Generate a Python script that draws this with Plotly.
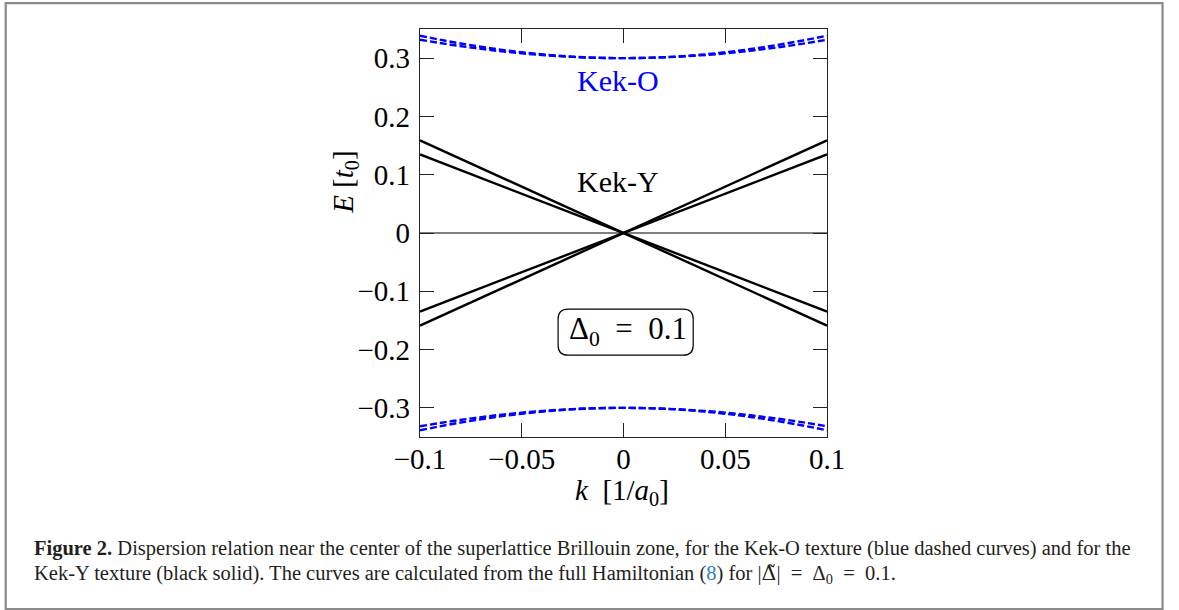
import plotly.graph_objects as go

# ---------------- data ----------------
k_band = [-0.1, -0.0875, -0.075, -0.0625, -0.05, -0.0375, -0.025, -0.0125, 0.0,
          0.0125, 0.025, 0.0375, 0.05, 0.0625, 0.075, 0.0875, 0.1]
kekO_upper_outer = [0.3385, 0.3299, 0.3222, 0.3156, 0.3101, 0.3057, 0.3026, 0.3006, 0.3000,
                    0.3006, 0.3026, 0.3057, 0.3101, 0.3156, 0.3222, 0.3299, 0.3385]
kekO_upper_inner = [0.3316, 0.3245, 0.3182, 0.3127, 0.3082, 0.3047, 0.3021, 0.3005, 0.3000,
                    0.3005, 0.3021, 0.3047, 0.3082, 0.3127, 0.3182, 0.3245, 0.3316]
kekO_lower_outer = [-0.3385, -0.3299, -0.3222, -0.3156, -0.3101, -0.3057, -0.3026, -0.3006, -0.3000,
                    -0.3006, -0.3026, -0.3057, -0.3101, -0.3156, -0.3222, -0.3299, -0.3385]
kekO_lower_inner = [-0.3316, -0.3245, -0.3182, -0.3127, -0.3082, -0.3047, -0.3021, -0.3005, -0.3000,
                    -0.3005, -0.3021, -0.3047, -0.3082, -0.3127, -0.3182, -0.3245, -0.3316]

k_line = [-0.1, 0.0, 0.1]
kekY_fast_up = [-0.159, 0.0, 0.159]
kekY_fast_down = [0.159, 0.0, -0.159]
kekY_slow_up = [-0.1347, 0.0, 0.1347]
kekY_slow_down = [0.1347, 0.0, -0.1347]

x_ticks = [-0.1, -0.05, 0, 0.05, 0.1]
x_tick_labels = ["\u22120.1", "\u22120.05", "0", "0.05", "0.1"]
y_ticks = [-0.3, -0.2, -0.1, 0, 0.1, 0.2, 0.3]
y_tick_labels = ["\u22120.3", "\u22120.2", "\u22120.1", "0", "0.1", "0.2", "0.3"]

# ---------------- layout geometry (pixels) ----------------
W, H = 1179, 610
L, R, T, B = 420.0, 826.7, 29.3, 436.7
PW, PH = R - L, B - T


def px(x):
    return (x - L) / PW


def py(y):
    return (B - y) / PH


SERIF = "Liberation Serif"
BLUE = "#0000ff"

fig = go.Figure()

# Kek-O blue dashed bands
for yv in [kekO_upper_outer, kekO_upper_inner, kekO_lower_outer, kekO_lower_inner]:
    fig.add_trace(go.Scatter(x=k_band, y=yv, mode="lines", line_shape="spline",
                             line=dict(color=BLUE, width=2.4, dash="7px,3px"),
                             showlegend=False, hoverinfo="skip"))

# zero line
fig.add_trace(go.Scatter(x=[x_ticks[0], x_ticks[-1]], y=[0, 0], mode="lines",
                         line=dict(color="black", width=1), showlegend=False, hoverinfo="skip"))

# Kek-Y black solid lines
for yv in [kekY_fast_up, kekY_fast_down, kekY_slow_up, kekY_slow_down]:
    fig.add_trace(go.Scatter(x=k_line, y=yv, mode="lines",
                             line=dict(color="black", width=2.4),
                             showlegend=False, hoverinfo="skip"))

axis_common = dict(showgrid=False, zeroline=False, showline=True, linecolor="#222",
                   linewidth=1.3, mirror="ticks", ticks="inside", ticklen=14,
                   tickwidth=1.1, tickcolor="#222",
                   tickfont=dict(family=SERIF, size=29, color="black"))

fig.update_layout(
    width=W, height=H, autosize=False,
    margin=dict(l=L, r=W - R, t=T, b=H - B, pad=0),
    paper_bgcolor="white", plot_bgcolor="white",
    xaxis=dict(range=[-0.1, 0.1], tickvals=x_ticks, ticktext=x_tick_labels, **axis_common),
    yaxis=dict(range=[-0.35, 0.35], tickvals=y_ticks, ticktext=y_tick_labels, **axis_common),
)
fig.update_xaxes(ticklabelstandoff=-4)
fig.update_yaxes(ticklabelstandoff=3)

ann = []
# axis titles
ann.append(dict(xref="paper", yref="paper", x=px(622), y=py(492), xanchor="center", yanchor="middle",
                text="<i>k</i>  [1/<i>a</i><sub>0</sub>]", showarrow=False,
                font=dict(family=SERIF, size=29, color="black")))
ann.append(dict(xref="paper", yref="paper", x=px(345), y=py(182), xanchor="center", yanchor="middle",
                text="<i>E</i> [<i>t</i><sub>0</sub>]", textangle=-90, showarrow=False,
                font=dict(family=SERIF, size=29, color="black")))
# in-plot labels
ann.append(dict(xref="paper", yref="paper", x=px(618), y=py(81), xanchor="center", yanchor="middle",
                text="Kek-O", showarrow=False, font=dict(family=SERIF, size=30, color=BLUE)))
ann.append(dict(xref="paper", yref="paper", x=px(618), y=py(182), xanchor="center", yanchor="middle",
                text="Kek-Y", showarrow=False, font=dict(family=SERIF, size=30, color="black")))
ann.append(dict(xref="paper", yref="paper", x=px(628), y=py(331), xanchor="center", yanchor="middle",
                text="\u0394<sub>0</sub>\u2002=\u20020.1", showarrow=False,
                font=dict(family=SERIF, size=31, color="black")))
# caption
cap_font = dict(family=SERIF, size=20.5, color="#231f20")
ann.append(dict(xref="paper", yref="paper", x=px(32), y=py(548), xanchor="left", yanchor="middle",
                text="<b>Figure 2.</b> Dispersion relation near the center of the superlattice Brillouin zone, "
                     "for the Kek-O texture (blue dashed curves) and for the",
                showarrow=False, font=cap_font))
ann.append(dict(xref="paper", yref="paper", x=px(32), y=py(573), xanchor="left", yanchor="middle",
                text="Kek-Y texture (black solid). The curves are calculated from the full Hamiltonian "
                     "(<span style='color:#2a7fc0'>8</span>) for "
                     "|<span style='font-family:DejaVu Serif'>\u0394\u0303</span>|\u2002=\u2002\u0394<sub>0</sub>\u2002=\u20020.1.",
                showarrow=False, font=cap_font))
fig.update_layout(annotations=ann)

# rounded box around Delta label
x0, x1, y0, y1, r = 558, 693, 309, 355, 10
path = (f"M {px(x0 + r)} {py(y0)} L {px(x1 - r)} {py(y0)} Q {px(x1)} {py(y0)} {px(x1)} {py(y0 + r)} "
        f"L {px(x1)} {py(y1 - r)} Q {px(x1)} {py(y1)} {px(x1 - r)} {py(y1)} "
        f"L {px(x0 + r)} {py(y1)} Q {px(x0)} {py(y1)} {px(x0)} {py(y1 - r)} "
        f"L {px(x0)} {py(y0 + r)} Q {px(x0)} {py(y0)} {px(x0 + r)} {py(y0)} Z")
fig.add_shape(type="path", xref="paper", yref="paper", path=path,
              line=dict(color="black", width=1.2), fillcolor="rgba(0,0,0,0)")

# outer frame
fig.add_shape(type="rect", xref="paper", yref="paper",
              x0=px(6), x1=px(1162), y0=py(3.5), y1=py(608.5),
              line=dict(color="#8a8a8a", width=2.2), fillcolor="rgba(0,0,0,0)", layer="below")

fig.write_html("out.html", config={"displayModeBar": False},
               post_script="document.body.style.margin='0';document.body.style.overflow='hidden';")
